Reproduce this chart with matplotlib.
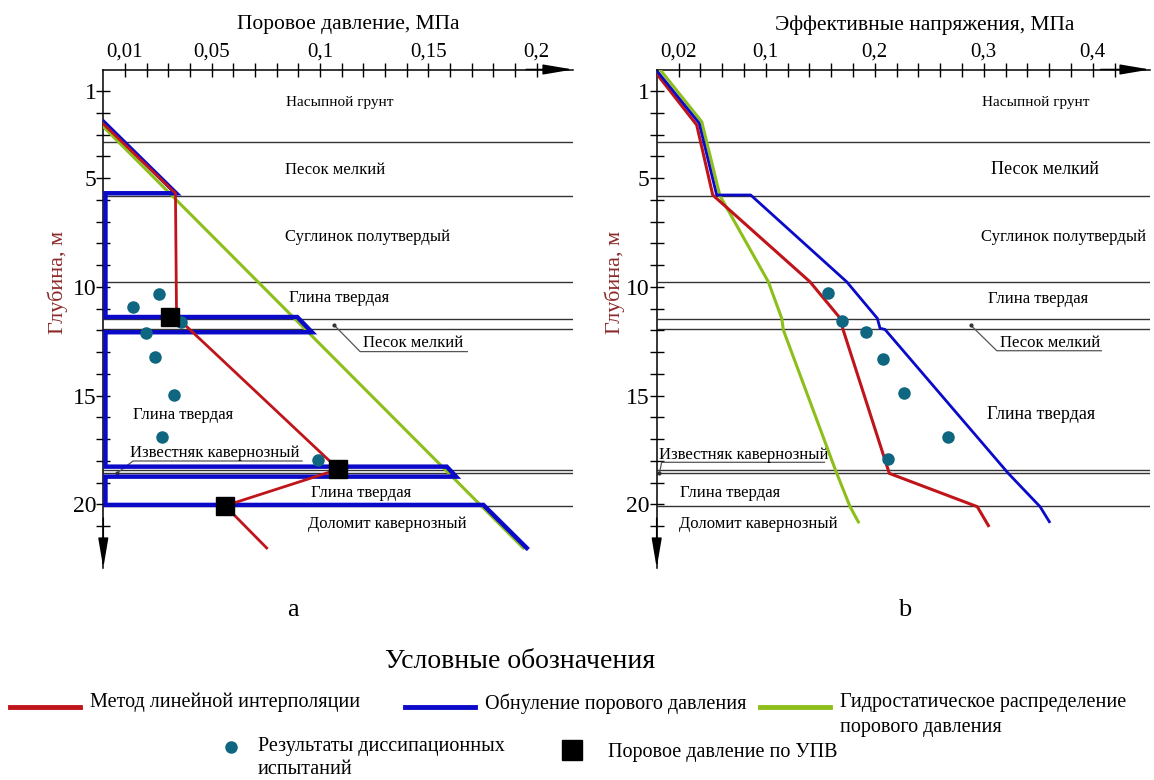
import numpy as np
import matplotlib.pyplot as plt
from matplotlib.lines import Line2D

plt.rcParams['font.family'] = ['Liberation Serif', 'DejaVu Serif']

RED = '#c0141b'
BLUE = '#0a0ac8'
GREEN = '#8cbf1a'
TEAL = '#0f6680'

# soil layer boundaries, m
layer_bounds = [3.35, 5.8, 9.78, 11.48, 11.95, 18.4, 18.54, 20.06]

# pore pressure, MPa vs depth, m
pp_hydro_p = [0.0, 0.1938]
pp_hydro_d = [2.63, 22.0]
pp_zero_p = [0.0, 0.0336, 0.001, 0.001, 0.0895, 0.0963, 0.001, 0.001,
             0.1585, 0.1628, 0.001, 0.001, 0.1754, 0.1954]
pp_zero_d = [2.40, 5.69, 5.69, 11.38, 11.38, 12.08, 12.08, 18.26,
             18.26, 18.72, 18.72, 20.02, 20.02, 22.0]
pp_interp_p = [0.0, 0.0333, 0.0338, 0.1085, 0.0562, 0.0754]
pp_interp_d = [2.5, 5.69, 11.38, 18.38, 20.06, 22.0]
pp_test_p = [0.0259, 0.0136, 0.0357, 0.0197, 0.0239, 0.0328, 0.027, 0.0992]
pp_test_d = [10.32, 10.91, 11.6, 12.1, 13.23, 14.95, 16.91, 17.95]
pp_upv_p = [0.0308, 0.1085, 0.0562]
pp_upv_d = [11.38, 18.38, 20.06]

# effective stress, MPa vs depth, m
es_hydro_s = [0.003, 0.0413, 0.058, 0.1024, 0.1147, 0.1162, 0.1651, 0.1774, 0.185]
es_hydro_d = [0.0, 2.4, 5.8, 9.76, 11.44, 11.98, 18.56, 20.1, 20.8]
es_zero_s = [0.0, 0.039, 0.055, 0.0862, 0.1743, 0.2024, 0.2049, 0.2094,
             0.3226, 0.3517, 0.3602]
es_zero_d = [0.05, 2.47, 5.77, 5.77, 9.76, 11.44, 11.9, 11.95,
             18.57, 20.1, 20.79]
es_interp_s = [0.0, 0.0367, 0.0514, 0.1406, 0.1697, 0.1706, 0.2134, 0.2941, 0.3043]
es_interp_d = [0.2, 2.55, 5.77, 9.76, 11.52, 11.9, 18.57, 20.1, 20.97]
es_test_s = [0.1575, 0.1697, 0.192, 0.2073, 0.2272, 0.2676, 0.2125]
es_test_d = [10.29, 11.55, 12.06, 13.31, 14.89, 16.88, 17.91]

pp_ticks = [0.01, 0.05, 0.1, 0.15, 0.2]
pp_tick_labels = ['0,01', '0,05', '0,1', '0,15', '0,2']
es_ticks = [0.02, 0.1, 0.2, 0.3, 0.4]
es_tick_labels = ['0,02', '0,1', '0,2', '0,3', '0,4']
depth_ticks = [1, 5, 10, 15, 20]

W, H = 1154, 780
D_MAX = 22.92

fig = plt.figure(figsize=(W / 100, H / 100), dpi=100)


def px_axes(x0, x1, y0, y1):
    return fig.add_axes([x0 / W, 1 - y1 / H, (x1 - x0) / W, (y1 - y0) / H])


def setup(ax, xmax, minor_step, ticks, labels, title, title_x):
    ax.set_xlim(0, xmax)
    ax.set_ylim(D_MAX, 0)
    ax.patch.set_visible(False)
    for s in ['right', 'bottom']:
        ax.spines[s].set_visible(False)
    for s in ['top', 'left']:
        ax.spines[s].set_linewidth(1.1)
    ax.xaxis.tick_top()
    ax.set_xticks(ticks)
    ax.set_xticklabels(labels)
    ax.set_xticks(np.arange(minor_step, xmax - minor_step * 1.5, minor_step), minor=True)
    ax.set_yticks(depth_ticks)
    ax.set_yticks(np.arange(1, 22), minor=True)
    ax.tick_params(which='both', direction='inout', length=10, width=1)
    ax.tick_params(axis='x', labelsize=15, pad=1)
    ax.tick_params(axis='y', labelsize=17, pad=0)
    ax.hlines(layer_bounds, 0, xmax, color='#333333', lw=1, zorder=1)
    kw = dict(xycoords='axes fraction', textcoords='axes fraction',
              arrowprops=dict(arrowstyle='-|>,head_length=1.3,head_width=0.22',
                              color='k', lw=1.1, shrinkA=0, shrinkB=0,
                              mutation_scale=14))
    ax.annotate('', xy=(1.0, 1.0), xytext=(0.9, 1.0), **kw)
    ax.annotate('', xy=(0.0, 0.0), xytext=(0.0, 0.1), **kw)
    fig.text(title_x / W, 1 - 25 / H, title, fontsize=15.5, ha='center', va='center')


def layer_text(ax, x, d, s, size=12):
    ax.text(x, d, s, fontsize=size, ha='center', va='center', zorder=2)


def leader(ax, x0, d0, x1, d1, x2, s, tx, td, size=12):
    ax.plot([x0, x1, x2], [d0, d1, d1], color='#555555', lw=0.9, zorder=2)
    ax.plot([x0], [d0], 'o', color='#333333', ms=2, zorder=2)
    layer_text(ax, tx, td, s, size)


# pore pressure panel
ax1 = px_axes(103.3, 573, 69.5, 568)
setup(ax1, (573 - 103.3) / 2167, 0.01, pp_ticks, pp_tick_labels,
      'Поровое давление, МПа', 348)
ax1.plot(pp_hydro_p, pp_hydro_d, color=GREEN, lw=2.2, zorder=3)
ax1.plot(pp_zero_p, pp_zero_d, color=BLUE, lw=3.2, zorder=4, solid_joinstyle='miter')
ax1.plot(pp_interp_p, pp_interp_d, color=RED, lw=2, zorder=5)
ax1.plot(pp_test_p, pp_test_d, 'o', color=TEAL, ms=8, zorder=6)
ax1.plot(pp_upv_p, pp_upv_d, 's', color='k', ms=13, zorder=7)

layer_text(ax1, 0.109, 1.54, 'Насыпной грунт', 11)
layer_text(ax1, 0.107, 4.62, 'Песок мелкий')
layer_text(ax1, 0.122, 7.70, 'Суглинок полутвердый')
layer_text(ax1, 0.109, 10.5, 'Глина твердая')
leader(ax1, 0.1065, 11.75, 0.1185, 12.97, 0.168, 'Песок мелкий', 0.143, 12.57)
layer_text(ax1, 0.0368, 15.9, 'Глина твердая')
leader(ax1, 0.0062, 18.57, 0.0137, 18.0, 0.0917, 'Известняк кавернозный', 0.0516, 17.63)
layer_text(ax1, 0.119, 19.47, 'Глина твердая')
layer_text(ax1, 0.131, 20.9, 'Доломит кавернозный')

# effective stress panel
ax2 = px_axes(656.7, 1150, 69.5, 568)
setup(ax2, (1150 - 656.7) / 1090, 0.02, es_ticks, es_tick_labels,
      'Эффективные напряжения, МПа', 925)
ax2.plot(es_hydro_s, es_hydro_d, color=GREEN, lw=2.2, zorder=3)
ax2.plot(es_interp_s, es_interp_d, color=RED, lw=2.2, zorder=4)
ax2.plot(es_zero_s, es_zero_d, color=BLUE, lw=2, zorder=5)
ax2.plot(es_test_s, es_test_d, 'o', color=TEAL, ms=8, zorder=6)

layer_text(ax2, 0.348, 1.54, 'Насыпной грунт', 11)
layer_text(ax2, 0.356, 4.62, 'Песок мелкий', 13)
layer_text(ax2, 0.373, 7.70, 'Суглинок полутвердый')
layer_text(ax2, 0.35, 10.55, 'Глина твердая')
leader(ax2, 0.288, 11.75, 0.312, 12.93, 0.408, 'Песок мелкий', 0.361, 12.56)
layer_text(ax2, 0.353, 15.85, 'Глина твердая', 13)
leader(ax2, 0.0024, 18.57, 0.0046, 18.06, 0.154, 'Известняк кавернозный', 0.0795, 17.72)
layer_text(ax2, 0.0672, 19.48, 'Глина твердая')
layer_text(ax2, 0.0932, 20.9, 'Доломит кавернозный')

for xl in [58, 615]:
    fig.text(xl / W, 1 - 282 / H, 'Глубина, м', rotation=90, fontsize=16,
             color='#8b2a2a', ha='center', va='center')
fig.text(293 / W, 1 - 610 / H, 'a', fontsize=19, ha='center', va='center')
fig.text(905 / W, 1 - 610 / H, 'b', fontsize=19, ha='center', va='center')

# legend drawn in a pixel-space overlay
lg = fig.add_axes([0, 0, 1, 1])
lg.set_xlim(0, W)
lg.set_ylim(H, 0)
lg.axis('off')
lg.text(520, 662, 'Условные обозначения', fontsize=20, ha='center', va='center')
for x0, c, s in [(10, RED, 'Метод линейной интерполяции'),
                 (405, BLUE, 'Обнуление порового давления'),
                 (760, GREEN, 'Гидростатическое распределение\nпорового давления')]:
    lg.add_line(Line2D([x0, x0 + 70], [707, 707], color=c, lw=3.5))
    lg.text(x0 + 80, 693, s, fontsize=14.5, ha='left', va='top', linespacing=1.45)
lg.plot([231], [747], 'o', color=TEAL, ms=8)
lg.text(258, 737, 'Результаты диссипационных\nиспытаний', fontsize=14.5,
        ha='left', va='top', linespacing=1.3)
lg.plot([572], [750], 's', color='k', ms=14)
lg.text(608, 752, 'Поровое давление по УПВ', fontsize=14.5, ha='left', va='center')

fig.savefig('out.png', dpi=100)
